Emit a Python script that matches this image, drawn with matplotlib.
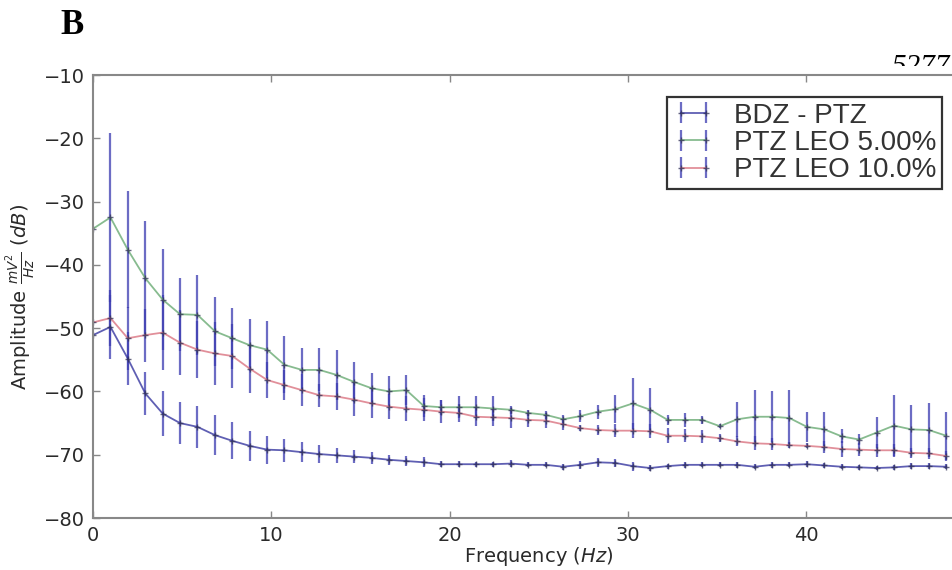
import matplotlib
matplotlib.use("Agg")
import matplotlib.pyplot as plt
from matplotlib.transforms import Bbox, TransformedBbox
from matplotlib.container import ErrorbarContainer
from matplotlib.legend_handler import HandlerErrorbar

# frequency bins (Hz)
freqs = [0.00, 0.98, 1.95, 2.93, 3.91, 4.88, 5.86, 6.84, 7.81, 8.79,
         9.77, 10.74, 11.72, 12.70, 13.67, 14.65, 15.63, 16.60, 17.58, 18.55,
         19.53, 20.51, 21.48, 22.46, 23.44, 24.41, 25.39, 26.37, 27.34, 28.32,
         29.30, 30.27, 31.25, 32.23, 33.20, 34.18, 35.16, 36.13, 37.11, 38.09,
         39.06, 40.04, 41.02, 41.99, 42.97, 43.95, 44.92, 45.90, 46.88, 47.85]

bdz_ptz = [-51.1, -49.8, -54.8, -60.3, -63.5, -65.0, -65.6, -66.9, -67.8, -68.6,
           -69.2, -69.3, -69.6, -69.9, -70.1, -70.3, -70.5, -70.8, -71.0, -71.2,
           -71.5, -71.5, -71.5, -71.5, -71.4, -71.6, -71.6, -71.9, -71.6, -71.2,
           -71.3, -71.8, -72.1, -71.8, -71.6, -71.6, -71.6, -71.6, -71.9, -71.6,
           -71.6, -71.5, -71.7, -71.9, -72.0, -72.1, -72.0, -71.8, -71.8, -71.9]
bdz_err = [0.0, 5.0, 4.2, 3.4, 3.6, 3.3, 3.3, 3.2, 2.9, 2.4,
           2.2, 1.8, 1.6, 1.4, 1.2, 1.0, 0.9, 0.8, 0.8, 0.8,
           0.5, 0.5, 0.4, 0.4, 0.5, 0.4, 0.4, 0.5, 0.6, 0.7,
           0.6, 0.7, 0.5, 0.4, 0.5, 0.4, 0.4, 0.5, 0.4, 0.5,
           0.4, 0.5, 0.4, 0.4, 0.4, 0.3, 0.4, 0.5, 0.5, 0.4]

leo5 = [-34.3, -32.5, -37.6, -42.1, -45.5, -47.8, -47.9, -50.5, -51.6, -52.7,
        -53.4, -55.8, -56.6, -56.6, -57.4, -58.5, -59.5, -60.0, -59.8, -62.3,
        -62.5, -62.5, -62.5, -62.7, -62.9, -63.4, -63.7, -64.4, -63.9, -63.2,
        -62.8, -61.9, -62.9, -64.5, -64.5, -64.5, -65.5, -64.4, -64.0, -64.0,
        -64.2, -65.6, -66.0, -67.1, -67.6, -66.5, -65.4, -66.0, -66.1, -67.0]
leo5_err = [0.0, 13.3, 9.2, 9.0, 8.0, 5.8, 6.3, 5.5, 4.8, 4.1,
            4.5, 4.5, 3.4, 3.4, 4.0, 3.2, 2.4, 2.5, 2.4, 1.7,
            1.2, 1.7, 1.7, 2.0, 0.6, 0.5, 0.6, 0.7, 1.0, 1.1,
            2.2, 4.0, 3.4, 0.8, 1.1, 0.6, 0.3, 2.8, 4.2, 4.0,
            4.5, 2.4, 2.7, 1.1, 0.8, 2.5, 4.8, 3.9, 4.3, 3.8]

leo10 = [-49.1, -48.4, -51.6, -51.1, -50.7, -52.3, -53.4, -54.0, -54.4, -56.4,
         -58.2, -59.0, -59.8, -60.6, -60.8, -61.3, -61.9, -62.4, -62.7, -62.9,
         -63.2, -63.4, -64.0, -64.1, -64.2, -64.5, -64.6, -65.2, -65.8, -66.1,
         -66.2, -66.2, -66.3, -67.0, -67.0, -67.1, -67.4, -67.9, -68.2, -68.3,
         -68.5, -68.6, -68.8, -69.1, -69.2, -69.3, -69.3, -69.7, -69.8, -70.2]
leo10_err = [0.0, 4.5, 5.0, 4.2, 5.9, 5.1, 4.5, 5.0, 5.1, 3.9,
             2.9, 2.4, 2.5, 1.8, 2.1, 2.6, 2.3, 2.0, 2.0, 1.8,
             1.8, 1.4, 1.5, 1.4, 1.6, 1.1, 1.2, 0.9, 0.5, 0.8,
             1.0, 1.2, 1.1, 1.2, 1.0, 1.0, 0.6, 0.8, 1.1, 0.9,
             0.5, 0.4, 0.9, 1.2, 1.0, 1.0, 1.0, 0.8, 0.8, 0.8]

labels = ["BDZ - PTZ", "PTZ LEO 5.00%", "PTZ LEO 10.0%"]
colors = ["#2a2a9a", "#5fa56a", "#d86a78"]

plt.rcParams["font.family"] = "DejaVu Sans"
plt.rcParams["mathtext.fontset"] = "dejavusans"

fig = plt.figure(figsize=(9.53, 5.70), dpi=100)
ax = fig.add_axes([93 / 953, 52 / 570, 891.5 / 953, 443 / 570])

series = [(bdz_ptz, bdz_err), (leo5, leo5_err), (leo10, leo10_err)]
for (vals, errs), lab, col in zip(series, labels, colors):
    ax.errorbar(freqs, vals, yerr=errs, color=col, alpha=0.75, lw=1.3,
                ecolor="#3b3bb0", elinewidth=1.6, capsize=0,
                marker="+", ms=5, mec="#333355", label=lab)

ax.set_xlim(0, 50)
ax.set_ylim(-80, -10)
ax.set_xticks([0, 10, 20, 30, 40])
ax.set_yticks([-80, -70, -60, -50, -40, -30, -20, -10])

for s in ax.spines.values():
    s.set_color("#888888")
    s.set_linewidth(1.5)
ax.tick_params(direction="in", length=5, width=1, colors="#888888",
               labelcolor="#2a2a2a", labelsize=14, top=True, right=True,
               pad=6)

ax.set_xlabel("Frequency $(Hz)$", fontsize=14, color="#2a2a2a", labelpad=0)
ax.set_ylabel(r"Amplitude $\frac{mV^2}{Hz}$ $(dB)$", fontsize=14,
              color="#2a2a2a", labelpad=4)

leg = ax.legend(loc="upper right", bbox_to_anchor=(942 / 953, 1 - 97 / 570),
                bbox_transform=fig.transFigure, borderaxespad=0,
                numpoints=2, fancybox=False, handlelength=1.5,
                handletextpad=0.7, borderpad=0.2, labelspacing=0.05,
                prop={"family": "Liberation Sans", "size": 20},
                handler_map={ErrorbarContainer: HandlerErrorbar(yerr_size=0.38)})
leg.get_frame().set_edgecolor("black")
leg.get_frame().set_linewidth(1.6)
for t in leg.get_texts():
    t.set_color("#333333")

# panel letter
fig.text(72 / 953, 1 - 25 / 570, "B", fontsize=25, fontweight="bold",
         family="Liberation Serif", ha="center", va="center")

# page number, only its top shows
num = fig.text(950 / 953, 1 - 54 / 570, "5277", fontsize=21, style="italic",
               family="Liberation Serif", ha="right", va="top")
num.set_clip_on(True)
num.set_clip_box(TransformedBbox(Bbox([[850 / 953, 1 - 66 / 570], [1, 1]]),
                                 fig.transFigure))

fig.savefig("out.png", dpi=100)
